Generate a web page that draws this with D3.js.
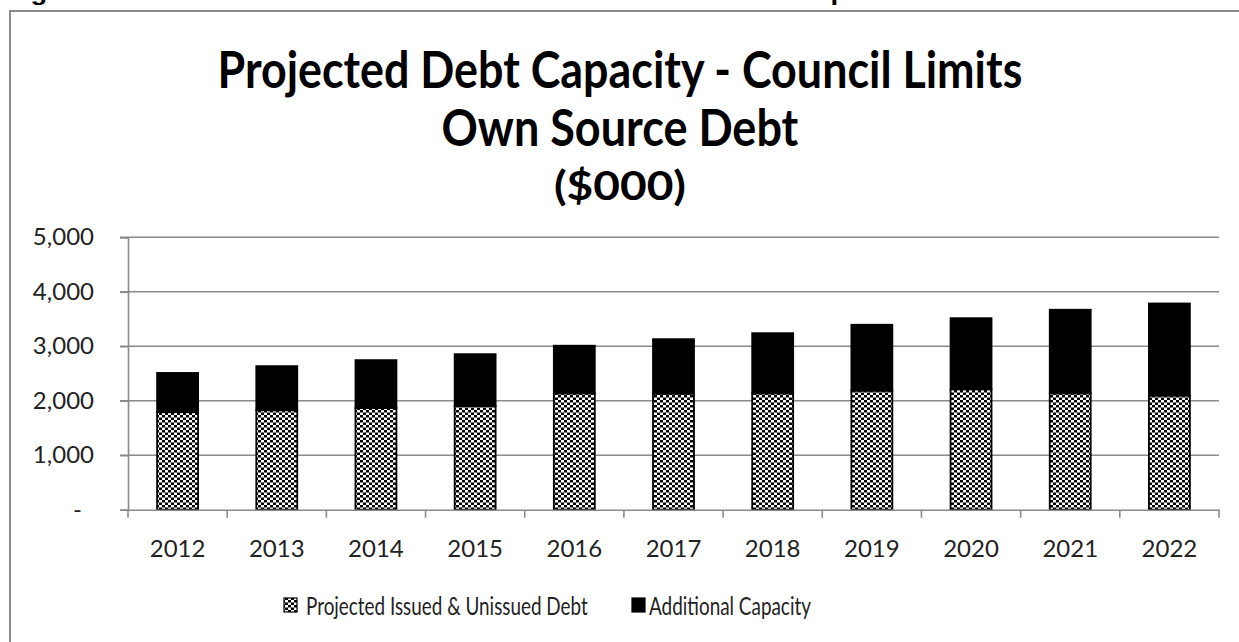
<!DOCTYPE html>
<html>
<head>
<meta charset="utf-8">
<script src="https://cdn.jsdelivr.net/npm/d3@7"></script>
<style>
  html, body { margin: 0; padding: 0; background: #fff; }
  svg { display: block; }
  text { font-family: Lato, "Open Sans", sans-serif; }
</style>
</head>
<body>
<svg id="chart" width="1239" height="642"></svg>
<script>
// Fiscal years shown on the category axis
const years = ["2012", "2013", "2014", "2015", "2016", "2017", "2018", "2019", "2020", "2021", "2022"];
// Projected issued & unissued own source debt ($000)
const issuedDebt = [1790, 1825, 1865, 1905, 2135, 2130, 2135, 2185, 2210, 2135, 2095];
// Additional borrowing capacity under council limits ($000)
const additionalCapacity = [720, 810, 880, 950, 875, 1000, 1105, 1210, 1305, 1535, 1690];
// Value axis ticks
const yTicks = [0, 1000, 2000, 3000, 4000, 5000];
const seriesNames = ["Projected Issued & Unissued Debt", "Additional Capacity"];
const titleLines = ["Projected Debt Capacity - Council Limits", "Own Source Debt", "($000)"];

const svg = d3.select("#chart");
const W = 1239, H = 642;
const plot = { left: 128, right: 1219, top: 237.3, bottom: 509.7 };

// Draws a text squeezed horizontally to a given width (condensed face look).
// anchor: "start" -> x is left edge, "middle" -> x is centre.
function fittedText(parent, str, x, y, width, anchor, attrs) {
  const g = parent.append("g");
  const t = g.append("text").attr("x", 0).attr("y", 0).text(str);
  Object.entries(attrs).forEach(([k, v]) => t.attr(k, v));
  const natural = t.node().getComputedTextLength();
  const sx = width / natural;
  const left = anchor === "middle" ? x - width / 2 : x;
  g.attr("transform", `translate(${left},${y}) scale(${sx},1)`);
  return g;
}

// checkerboard fill for the issued debt series
const defs = svg.append("defs");
const pat = defs.append("pattern")
  .attr("id", "checker")
  .attr("patternUnits", "userSpaceOnUse")
  .attr("width", 6).attr("height", 5);
pat.append("rect").attr("width", 6).attr("height", 5).attr("fill", "#fff");
pat.append("rect").attr("x", 0).attr("y", 0).attr("width", 3).attr("height", 2.5).attr("fill", "#000");
pat.append("rect").attr("x", 3).attr("y", 2.5).attr("width", 3).attr("height", 2.5).attr("fill", "#000");

// caption line above the chart frame, mostly clipped by the page top
fittedText(svg, "Figure 10: Own Source Funded Debt Issued and Unissued Compared to Council Limits",
  6, 0, 1130, "start", {
    "font-weight": "bold", "font-size": 22, "fill": "#000",
    "style": "font-family: 'Liberation Sans', Arial, sans-serif"
  });

// chart frame
svg.append("rect")
  .attr("x", 10).attr("y", 11)
  .attr("width", W + 20).attr("height", H + 20)
  .attr("fill", "none")
  .attr("stroke", "#8a8a8a")
  .attr("stroke-width", 2);

// titles
const titleSpec = [
  { y: 88, size: 51, len: 805 },
  { y: 146, size: 51, len: 357 },
  { y: 200, size: 40, len: 132 }
];
titleLines.forEach((t, i) => {
  fittedText(svg, t, 620, titleSpec[i].y, titleSpec[i].len, "middle", {
    "font-weight": 700, "font-size": titleSpec[i].size, "fill": "#000"
  });
});

// scales
const x = d3.scaleBand()
  .domain(years)
  .range([plot.left, plot.right])
  .paddingInner(0.587)
  .paddingOuter(0.2935);
const xCat = d3.scaleBand().domain(years).range([plot.left, plot.right]);
const y = d3.scaleLinear().domain([0, 5000]).range([plot.bottom, plot.top]);

// gridlines
svg.append("g")
  .selectAll("line")
  .data(yTicks.filter(d => d > 0))
  .join("line")
  .attr("x1", plot.left - 8).attr("x2", plot.right)
  .attr("y1", d => y(d)).attr("y2", d => y(d))
  .attr("stroke", "#8a8a8a").attr("stroke-width", 1.6);

// y axis
const yAxis = svg.append("g")
  .attr("transform", `translate(${plot.left},0)`)
  .call(d3.axisLeft(y).tickValues(yTicks).tickSize(8).tickPadding(26)
    .tickFormat(d => d === 0 ? "-" : d3.format(",")(d)));
yAxis.select(".domain").attr("stroke", "#8a8a8a").attr("stroke-width", 1.6);
yAxis.selectAll(".tick line").attr("stroke", "#8a8a8a").attr("stroke-width", 1.6);
yAxis.selectAll(".tick text")
  .attr("font-size", 24)
  .attr("fill", "#222")
  .style("font-family", "Lato, sans-serif")
  .attr("dx", d => d === 0 ? -12 : 0);

// stacked data table
const table = years.map((yr, i) => ({ year: yr, issued: issuedDebt[i], additional: additionalCapacity[i] }));
const stack = d3.stack().keys(["issued", "additional"])(table);
const fills = ["url(#checker)", "#000"];

svg.append("g")
  .selectAll("g")
  .data(stack)
  .join("g")
  .attr("fill", (d, i) => fills[i])
  .selectAll("rect")
  .data(d => d)
  .join("rect")
  .attr("x", d => x(d.data.year))
  .attr("width", x.bandwidth())
  .attr("y", d => y(d[1]))
  .attr("height", d => y(d[0]) - y(d[1]))
  .attr("stroke", "#000")
  .attr("stroke-width", 1.8);

// x axis
const xAxis = svg.append("g")
  .attr("transform", `translate(0,${plot.bottom})`)
  .call(d3.axisBottom(xCat).tickSize(0).tickPadding(30));
xAxis.select(".domain").attr("stroke", "#8a8a8a").attr("stroke-width", 1.6);
xAxis.selectAll(".tick text")
  .attr("font-size", 24)
  .attr("fill", "#222")
  .style("font-family", "Lato, sans-serif");
// category boundary tick marks
svg.append("g")
  .selectAll("line")
  .data(years.concat(["end"]))
  .join("line")
  .attr("x1", (d, i) => i < years.length ? xCat(d) : plot.right)
  .attr("x2", (d, i) => i < years.length ? xCat(d) : plot.right)
  .attr("y1", plot.bottom).attr("y2", plot.bottom + 8)
  .attr("stroke", "#8a8a8a").attr("stroke-width", 1.6);

// legend
const legendItems = [
  { name: seriesNames[0], fill: "url(#checker)", sx: 284, tx: 306, len: 282 },
  { name: seriesNames[1], fill: "#000", sx: 632, tx: 649, len: 162 }
];
const lg = svg.append("g");
legendItems.forEach(it => {
  lg.append("rect")
    .attr("x", it.sx).attr("y", 598)
    .attr("width", 13).attr("height", 14)
    .attr("fill", it.fill)
    .attr("stroke", "#000").attr("stroke-width", 1.2);
  fittedText(lg, it.name, it.tx, 615, it.len, "start", {
    "font-size": 25, "fill": "#222"
  });
});
</script>
</body>
</html>
